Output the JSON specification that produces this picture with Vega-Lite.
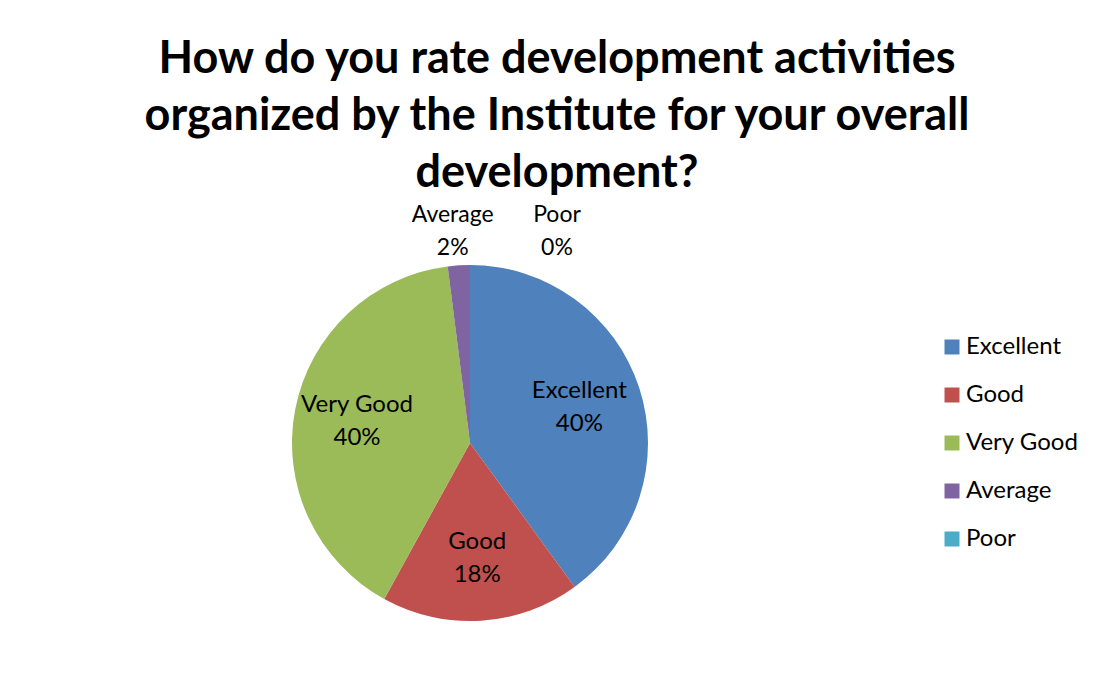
{
  "$schema": "https://vega.github.io/schema/vega-lite/v6.json",
  "autosize": {"type": "none"},
  "width": 356,
  "height": 356,
  "padding": {"left": 292, "top": 265, "right": 450, "bottom": 56},
  "background": "white",
  "title": {
    "text": ["How do you rate development activities", "organized by the Institute for your overall", "development?"],
    "font": "Lato",
    "fontSize": 45,
    "fontWeight": "bold",
    "lineHeight": 57,
    "color": "black",
    "anchor": "middle",
    "dx": 87,
    "offset": 8
  },
  "data": {
    "values": [
      {"rating": "Excellent", "share": 0.40, "idx": 1},
      {"rating": "Good", "share": 0.18, "idx": 2},
      {"rating": "Very Good", "share": 0.40, "idx": 3},
      {"rating": "Average", "share": 0.02, "idx": 4},
      {"rating": "Poor", "share": 0.00, "idx": 5}
    ]
  },
  "encoding": {
    "theta": {"field": "share", "type": "quantitative", "stack": true},
    "order": {"field": "idx", "type": "quantitative"}
  },
  "layer": [
    {
      "mark": {"type": "arc", "stroke": null},
      "encoding": {
        "color": {
          "field": "rating",
          "type": "nominal",
          "scale": {
            "domain": ["Excellent", "Good", "Very Good", "Average", "Poor"],
            "range": ["#4F81BD", "#C0504D", "#9BBB59", "#8064A2", "#4BACC6"]
          },
          "legend": {
            "title": null,
            "orient": "none",
            "legendX": 648,
            "legendY": 70,
            "symbolType": "square",
            "symbolSize": 225,
            "symbolStrokeWidth": 0,
            "labelFont": "Lato",
            "labelFontSize": 24,
            "labelColor": "black",
            "labelLimit": 300,
            "rowPadding": 24,
            "labelOffset": 2,
            "padding": 0
          }
        }
      }
    },
    {
      "mark": {"type": "text", "radius": 115, "font": "Lato", "fontSize": 24, "color": "black", "dy": -16},
      "encoding": {
        "text": {"field": "rating"},
        "opacity": {"condition": {"test": "datum.share >= 0.1", "value": 1}, "value": 0}
      }
    },
    {
      "mark": {"type": "text", "radius": 115, "font": "Lato", "fontSize": 24, "color": "black", "dy": 17},
      "encoding": {
        "text": {"field": "share", "format": ".0%"},
        "opacity": {"condition": {"test": "datum.share >= 0.1", "value": 1}, "value": 0}
      }
    },
    {
      "mark": {"type": "text", "radius": 212, "font": "Lato", "fontSize": 23, "color": "black", "dy": -16, "dx": -4},
      "encoding": {
        "text": {"field": "rating"},
        "opacity": {"condition": {"test": "datum.rating == 'Average'", "value": 1}, "value": 0}
      }
    },
    {
      "mark": {"type": "text", "radius": 212, "font": "Lato", "fontSize": 23, "color": "black", "dy": 17, "dx": -4},
      "encoding": {
        "text": {"field": "share", "format": ".0%"},
        "opacity": {"condition": {"test": "datum.rating == 'Average'", "value": 1}, "value": 0}
      }
    },
    {
      "mark": {"type": "text", "radius": 212, "font": "Lato", "fontSize": 23, "color": "black", "dy": -16, "dx": 87},
      "encoding": {
        "text": {"field": "rating"},
        "opacity": {"condition": {"test": "datum.rating == 'Poor'", "value": 1}, "value": 0}
      }
    },
    {
      "mark": {"type": "text", "radius": 212, "font": "Lato", "fontSize": 23, "color": "black", "dy": 17, "dx": 87},
      "encoding": {
        "text": {"field": "share", "format": ".0%"},
        "opacity": {"condition": {"test": "datum.rating == 'Poor'", "value": 1}, "value": 0}
      }
    }
  ],
  "config": {"view": {"stroke": null}}
}
